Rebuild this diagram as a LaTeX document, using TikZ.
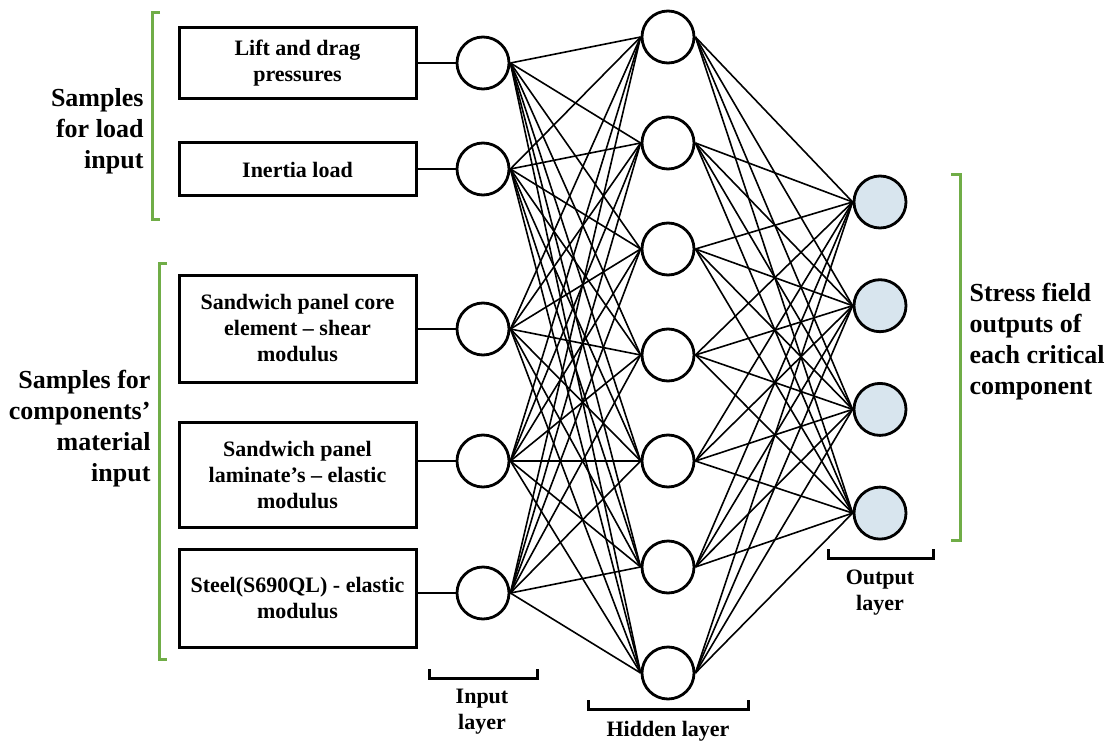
\documentclass[tikz,border=0pt]{standalone}
\usepackage{fontspec}
\setmainfont{Liberation Serif}
\usetikzlibrary{positioning}
\definecolor{bracketgreen}{RGB}{112,173,71}
\definecolor{outputblue}{RGB}{216,229,238}

\begin{document}
\begin{tikzpicture}[
  x=1pt, y=-1pt,
  every node/.style={font=\bfseries\fontsize{22}{26}\selectfont},
  inbox/.style={draw, line width=3pt, minimum width=237pt, inner sep=2pt, align=center},
  neuron/.style={draw, circle, line width=2.8pt, minimum size=52pt, inner sep=0pt, fill=white},
  outneuron/.style={neuron, fill=outputblue},
  grouplabel/.style={font=\bfseries\fontsize{26}{31}\selectfont},
  layerlabel/.style={align=center},
  link/.style={line width=1.6pt},
  feed/.style={line width=2.5pt},
  gbracket/.style={draw=bracketgreen, line width=3pt},
  lbracket/.style={line width=3pt}
]
\useasboundingbox (0,0) rectangle (1107,743);

\node[inbox, minimum height=71pt] (lift) at (297.5,63.5) {Lift and drag\\pressures};
\node[inbox, minimum height=53pt] (inertia) at (297.5,169.5) {Inertia load};
\node[inbox, minimum height=107pt] (core) at (297.5,328.5) {Sandwich panel core\\element – shear\\modulus};
\node[inbox, minimum height=105pt] (laminate) at (297.5,474.5) {Sandwich panel\\laminate’s – elastic\\modulus};
\node[inbox, minimum height=98pt] (steel) at (297.5,598) {Steel(S690QL) - elastic\\modulus};

% layers
\foreach \y [count=\i] in {63,169,329,461,593}
  \node[neuron] (in\i) at (483,\y) {};
\foreach \i in {1,...,7}
  \node[neuron] (hid\i) at (668,{37+106*(\i-1)}) {};
\foreach \i in {1,...,4}
  \node[outneuron] (out\i) at (880,{202+103.7*(\i-1)}) {};

\foreach \b [count=\i] in {lift,inertia,core,laminate,steel}
  \draw[feed] (in\i.west) -- (in\i.west -| \b.east);

\foreach \i in {1,...,5}
  \foreach \j in {1,...,7}
    \draw[link] (in\i.east) -- (hid\j.west);
\foreach \j in {1,...,7}
  \foreach \k in {1,...,4}
    \draw[link] (hid\j.east) -- (out\k.west);

\node[grouplabel, align=right, anchor=east] (loadlabel) at (147,131) {Samples\\for load\\input};
\node[grouplabel, align=right, anchor=east] (matlabel) at (154,429) {Samples for\\components’\\material\\input};
\node[grouplabel, align=left, anchor=west] (stresslabel) at (966,342) {Stress field\\outputs of\\each critical\\component};

\node[layerlabel] (inputlabel) at (482,712) {Input\\layer};
\node (hiddenlabel) at (668,731) {Hidden layer};
\node[layerlabel] (outputlabel) at (880,593) {Output\\layer};

% brackets
\draw[gbracket] (160,13) -- (152,13) -- (152,220) -- (160,220);
\draw[gbracket] (167,263) -- (159,263) -- (159,659) -- (167,659);
\draw[gbracket] (951,175) -- (960,175) -- (960,540) -- (951,540);
\draw[lbracket] (429,669) -- (429,678) -- (537,678) -- (537,669);
\draw[lbracket] (588,700) -- (588,709) -- (748,709) -- (748,700);
\draw[lbracket] (828,549) -- (828,558) -- (933,558) -- (933,549);

\end{tikzpicture}
\end{document}
